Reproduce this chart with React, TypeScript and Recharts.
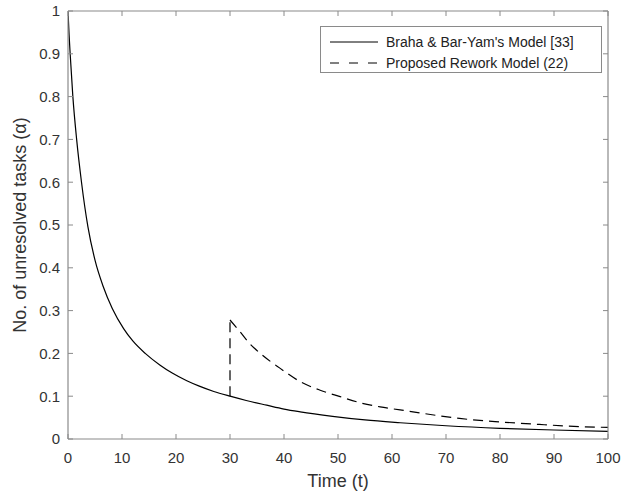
import React from "react";
import { LineChart, Line, XAxis, YAxis, Legend } from "recharts";

// Braha & Bar-Yam's model (solid)
const brahaT = [0, 0.2, 0.4, 0.9, 1.6, 2.5, 3.7, 5, 6.5, 8.2, 10.3, 12, 14.3, 17, 19.3, 22, 24.2, 27, 30, 33, 36.8, 40, 43, 49, 55, 61.5, 70, 80, 90, 100];
const brahaV = [1, 0.945, 0.9, 0.8, 0.7, 0.6, 0.495, 0.418, 0.357, 0.305, 0.258, 0.229, 0.2, 0.173, 0.154, 0.136, 0.124, 0.111, 0.1, 0.09, 0.079, 0.07, 0.0635, 0.053, 0.0445, 0.038, 0.031, 0.025, 0.021, 0.018];

// Proposed rework model (dashed): jump at t = 30, then decay
const jumpT = [30, 30];
const jumpV = [0.1, 0.278];
const reworkT = [30, 31.9, 33.5, 35.6, 39.3, 43, 46.7, 50.4, 54, 57.8, 61.5, 65.1, 72.5, 79.9, 87.3, 94.7, 100];
const reworkV = [0.278, 0.25, 0.225, 0.2, 0.165, 0.134, 0.114, 0.099, 0.085, 0.075, 0.068, 0.061, 0.048, 0.04, 0.034, 0.029, 0.027];

const xTicks = [0, 10, 20, 30, 40, 50, 60, 70, 80, 90, 100];
const yTicks = [0, 0.1, 0.2, 0.3, 0.4, 0.5, 0.6, 0.7, 0.8, 0.9, 1];

const seriesNames = ["Braha & Bar-Yam's Model [33]", "Proposed Rework Model (22)"];
const xLabel = "Time (t)";
const yLabel = "No. of unresolved tasks (\u03b1)";

const brahaData = brahaT.map((t, i) => ({ t, v: brahaV[i] }));
const jumpData = jumpT.map((t, i) => ({ t, v: jumpV[i] }));
const reworkData = reworkT.map((t, i) => ({ t, v: reworkV[i] }));

const AXIS = "#8a8a8a";
const TEXT = "#333333";
const FONT = "'Liberation Sans', Arial, sans-serif";
const DASH = "10 6";

const fmtY = (v: number) => (v === 0 ? "0" : v === 1 ? "1" : v.toFixed(1));
const NoLabel = () => <g />;

const LegendBox = () => (
  <div
    style={{
      width: 282,
      height: 47,
      border: `1px solid ${AXIS}`,
      background: "#fff",
      boxSizing: "border-box",
      fontFamily: FONT,
      fontSize: 14,
      color: "#222",
      position: "relative",
    }}
  >
    {seriesNames.map((name, i) => (
      <div
        key={name}
        style={{
          position: "absolute",
          left: 9,
          top: 6 + i * 21,
          height: 18,
          display: "flex",
          alignItems: "center",
          whiteSpace: "nowrap",
        }}
      >
        <svg width={50} height={18} style={{ marginRight: 6 }}>
          <line
            x1={0}
            x2={48}
            y1={9}
            y2={9}
            stroke="#000"
            strokeWidth={1}
            strokeDasharray={i === 1 ? "9 10" : undefined}
          />
        </svg>
        <span>{name}</span>
      </div>
    ))}
  </div>
);

const YLabel = (props: any) => {
  const vb = props.viewBox || {};
  const cx = (vb.x ?? 0) + 20;
  const cy = (vb.y ?? 0) + (vb.height ?? 0) / 2;
  return (
    <text
      x={cx}
      y={cy}
      transform={`rotate(-90, ${cx}, ${cy})`}
      textAnchor="middle"
      dominantBaseline="central"
      fontFamily={FONT}
      fontSize={18}
      fill={TEXT}
    >
      {yLabel}
    </text>
  );
};

const XLabel = (props: any) => {
  const vb = props.viewBox || {};
  const cx = (vb.x ?? 0) + (vb.width ?? 0) / 2;
  const cy = (vb.y ?? 0) + 42;
  return (
    <text
      x={cx}
      y={cy}
      textAnchor="middle"
      dominantBaseline="central"
      fontFamily={FONT}
      fontSize={18}
      fill={TEXT}
    >
      {xLabel}
    </text>
  );
};

export default function App() {
  return (
    <div style={{ position: "absolute", left: 0, top: 0, width: 636, height: 495, background: "#fff" }}>
      <LineChart width={636} height={495} margin={{ top: 11, right: 28, bottom: 0, left: 0 }}>
        <XAxis
          dataKey="t"
          type="number"
          domain={[0, 100]}
          ticks={xTicks}
          allowDataOverflow
          height={56}
          tickLine={false}
          tickSize={6}
          tickMargin={7}
          axisLine={{ stroke: AXIS, strokeWidth: 1.2 }}
          tick={{ fill: TEXT, fontSize: 15, fontFamily: FONT }}
          label={<XLabel />}
        />
        <XAxis
          xAxisId="bm"
          dataKey="t"
          type="number"
          domain={[0, 100]}
          ticks={xTicks}
          allowDataOverflow
          orientation="bottom"
          mirror
          height={1}
          tick={NoLabel}
          tickSize={5}
          axisLine={false}
          tickLine={{ stroke: AXIS }}
        />
        <XAxis
          xAxisId="tm"
          dataKey="t"
          type="number"
          domain={[0, 100]}
          ticks={xTicks}
          allowDataOverflow
          orientation="top"
          mirror
          height={1}
          tick={NoLabel}
          tickSize={5}
          axisLine={{ stroke: AXIS, strokeWidth: 1.2 }}
          tickLine={{ stroke: AXIS }}
        />
        <YAxis
          type="number"
          domain={[0, 1]}
          ticks={yTicks}
          allowDataOverflow
          width={68}
          tickLine={false}
          tickSize={4}
          tickMargin={4}
          tickFormatter={fmtY}
          axisLine={{ stroke: AXIS, strokeWidth: 1.2 }}
          tick={{ fill: TEXT, fontSize: 15, fontFamily: FONT }}
          label={<YLabel />}
        />
        <YAxis
          yAxisId="lm"
          type="number"
          domain={[0, 1]}
          ticks={yTicks}
          allowDataOverflow
          orientation="left"
          mirror
          width={1}
          tick={NoLabel}
          tickSize={5}
          axisLine={false}
          tickLine={{ stroke: AXIS }}
        />
        <YAxis
          yAxisId="rm"
          type="number"
          domain={[0, 1]}
          ticks={yTicks}
          allowDataOverflow
          orientation="right"
          mirror
          width={1}
          tick={NoLabel}
          tickSize={5}
          axisLine={{ stroke: AXIS, strokeWidth: 1.2 }}
          tickLine={{ stroke: AXIS }}
        />
        <Legend
          layout="horizontal"
          verticalAlign="middle"
          align="center"
          content={<LegendBox />}
          wrapperStyle={{ position: "absolute", left: 320, top: 26, width: 282, height: 47 }}
        />
        <Line
          data={brahaData}
          dataKey="v"
          type="monotone"
          stroke="#000"
          strokeWidth={1.2}
          dot={false}
          isAnimationActive={false}
          legendType="none"
        />
        <Line
          data={jumpData}
          dataKey="v"
          type="linear"
          stroke="#000"
          strokeWidth={1.2}
          strokeDasharray={DASH}
          dot={false}
          isAnimationActive={false}
          legendType="none"
        />
        <Line
          data={reworkData}
          dataKey="v"
          type="monotone"
          stroke="#000"
          strokeWidth={1.2}
          strokeDasharray={DASH}
          dot={false}
          isAnimationActive={false}
          legendType="none"
        />
      </LineChart>
    </div>
  );
}
